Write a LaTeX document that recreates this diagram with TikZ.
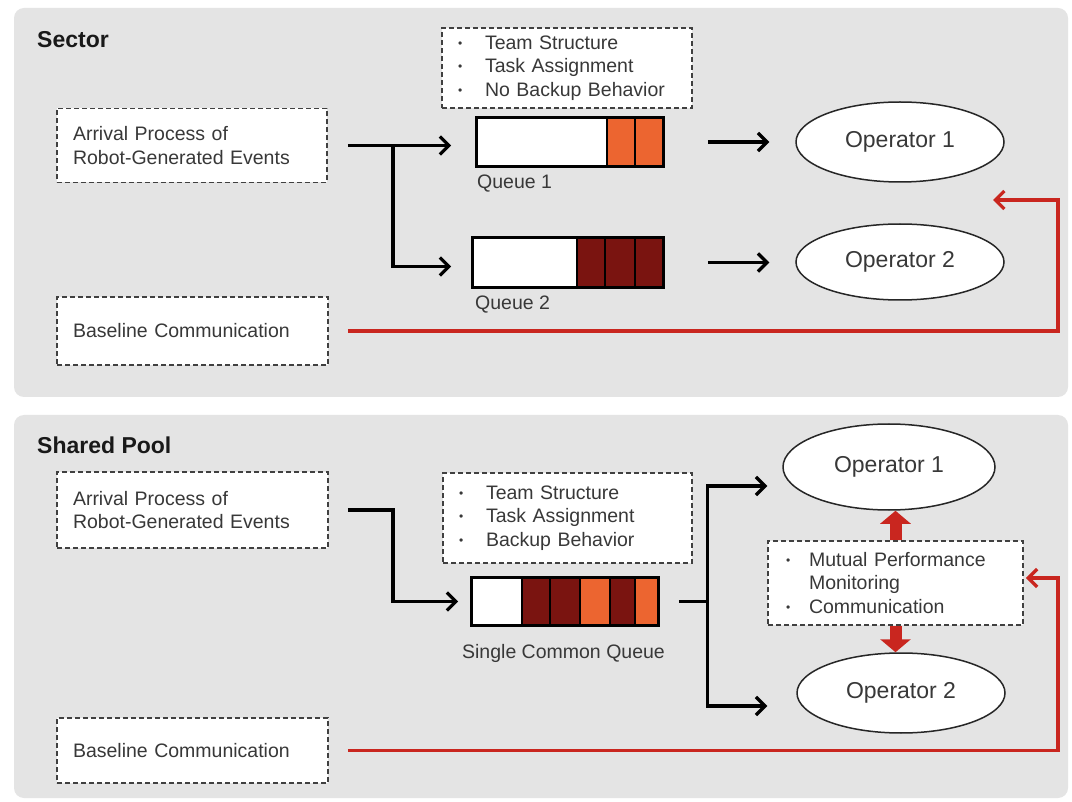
\documentclass[tikz,border=0pt]{standalone}
\usepackage{fontspec}
\setmainfont{Liberation Sans}
\usetikzlibrary{arrows.meta,calc,shapes.geometric}
\definecolor{panelgray}{HTML}{E4E4E4}
\definecolor{qorange}{HTML}{EC6530}
\definecolor{qdark}{HTML}{7A1410}
\definecolor{linkred}{HTML}{C9261F}
\definecolor{txtgray}{HTML}{383838}
\newcommand{\bul}[1]{\makebox[#1][l]{\raisebox{0.1em}{\fontsize{12}{12}\selectfont\textbullet}}}
\begin{document}
\begin{tikzpicture}[x=1pt,y=-1pt,
 dbox/.style={draw=black!75, line width=1.7pt, dash pattern=on 5pt off 3pt, fill=white, rectangle, inner ysep=0pt, text=txtgray, font=\fontsize{19.5}{23.5}\selectfont, align=left},
 opnode/.style={ellipse, draw=black!85, line width=1.5pt, fill=white, inner sep=0pt, text=txtgray, font=\fontsize{23}{27}\selectfont},
 qbox/.style={draw=black, line width=1.6pt, fill=white, rectangle, inner sep=0pt},
 qlabel/.style={text=txtgray, font=\fontsize{19.5}{23}\selectfont, inner sep=0pt},
 title/.style={font=\bfseries\fontsize{23}{27}\selectfont, text=black!90, anchor=west, inner sep=0pt},
 flow/.style={draw=black, line width=3.3pt},
 flowarr/.style={flow, -{Straight Barb[length=9pt,width=18pt]}},
 redlink/.style={draw=linkred, line width=3.3pt, -{Straight Barb[length=9pt,width=18pt]}},
 fatarr/.style={draw=linkred, line width=12pt, -{Triangle[length=13pt,width=30pt]}},
 cellO/.style={fill=qorange, draw=black, line width=1.2pt},
 cellD/.style={fill=qdark, draw=black, line width=1.2pt}]
\useasboundingbox (0,0) rectangle (1072,802);
\fill[white] (0,0) rectangle (1072,802);
\fill[panelgray, rounded corners=10pt] (14,8) rectangle (1068,397);
\fill[panelgray, rounded corners=10pt] (14,415) rectangle (1068,798);

% ---------------- Sector ----------------
\node[title] (secT) at (37,40) {Sector};
\node[dbox, text width=238pt, inner xsep=16pt, minimum height=74pt] (arrT) at (192,145.5) {Arrival Process of\\Robot-Generated Events};
\node[dbox, text width=239pt, inner xsep=16pt, minimum height=68pt] (baseT) at (192.5,331) {Baseline Communication};
\node[dbox, text width=218pt, inner xsep=16pt, minimum height=80pt] (teamT) at (567,68) {\bul{27pt}Team Structure\\\bul{27pt}Task Assignment\\\bul{27pt}No Backup Behavior};

\node[qbox, minimum width=186pt, minimum height=48pt] (q1) at (570,142) {};
\draw[cellO] (607,118) rectangle (635,166);
\draw[cellO] (635,118) rectangle (663,166);
\draw[line width=1.6pt] (q1.north west) rectangle (q1.south east);
\node[qlabel, anchor=west] (q1l) at (477,184) {Queue 1};

\node[qbox, minimum width=190pt, minimum height=49pt] (q2) at (568,262.5) {};
\draw[cellD] (577,238) rectangle (605,287);
\draw[cellD] (605,238) rectangle (635,287);
\draw[cellD] (635,238) rectangle (663,287);
\draw[line width=1.6pt] (q2.north west) rectangle (q2.south east);
\node[qlabel, anchor=west] (q2l) at (475,305) {Queue 2};

\node[opnode, minimum width=208pt, minimum height=80pt] (op1) at (900,142) {Operator 1};
\node[opnode, minimum width=208pt, minimum height=76pt] (op2) at (900,262) {Operator 2};

\coordinate (s1) at ($(arrT.east)+(20,0)$);
\coordinate (br1) at ($(arrT.east)+(65,0)$);
\draw[flowarr] (s1) -- ($(s1 -| q1.west)+(-25,0)$);
\draw[flowarr] (br1) |- ($(q2.west)+(-21,4)$);
\draw[flowarr] ($(q1.east)+(44,0)$) -- ($(q1.east -| op1.west)+(-26,0)$);
\draw[flowarr] ($(q2.east)+(44,0)$) -- ($(q2.east -| op2.west)+(-26,0)$);

\coordinate (rT1) at (1058,200);
\coordinate (rT2) at (993,200);
\draw[redlink] ($(baseT.east)+(19,0)$) -| (rT1) -- (rT2);

% ---------------- Shared Pool ----------------
\node[title] (secB) at (37,445) {Shared Pool};
\node[dbox, text width=239pt, inner xsep=16pt, minimum height=76pt] (arrB) at (192.5,510) {Arrival Process of\\Robot-Generated Events};
\node[dbox, text width=239pt, inner xsep=16pt, minimum height=65pt] (baseB) at (192.5,750.5) {Baseline Communication};
\node[dbox, text width=217pt, inner xsep=16pt, minimum height=90pt] (teamB) at (567.5,518) {\bul{27pt}Team Structure\\\bul{27pt}Task Assignment\\\bul{27pt}Backup Behavior};

\node[qbox, minimum width=186pt, minimum height=47pt] (q3) at (565,601.5) {};
\draw[cellD] (522,578) rectangle (550,625);
\draw[cellD] (550,578) rectangle (580,625);
\draw[cellO] (580,578) rectangle (610,625);
\draw[cellD] (610,578) rectangle (635,625);
\draw[cellO] (635,578) rectangle (658,625);
\draw[line width=1.6pt] (q3.north west) rectangle (q3.south east);
\node[qlabel] (q3l) at (563.5,653) {Single Common Queue};

\node[opnode, minimum width=212pt, minimum height=86pt] (op1b) at (889,467) {Operator 1};
\node[opnode, minimum width=208pt, minimum height=80pt] (op2b) at (901,693) {Operator 2};
\node[dbox, text width=219pt, inner xsep=18pt, minimum height=84pt] (mut) at (895.5,583) {\bul{23pt}Mutual Performance\\\hspace*{23pt}Monitoring\\\bul{23pt}Communication};

\coordinate (s2) at ($(arrB.east)+(19,0)$);
\coordinate (br2) at ($(arrB.east)+(64,0)$);
\draw[flowarr] (s2) -- (br2) |- ($(q3.west)+(-13,0)$);
\coordinate (jb) at ($(q3.east)+(49,0)$);
\draw[flow] ($(q3.east)+(20,0)$) -- (jb);
\draw[flowarr] (jb) |- ($(op1b.west)+(-15,19)$);
\draw[flowarr] (jb) |- ($(op2b.west)+(-29,13)$);

\draw[fatarr] (mut.north) -- (mut.north |- op1b.south);
\draw[fatarr] (mut.south) -- (mut.south |- op2b.north);

\coordinate (rB1) at (1058,578);
\coordinate (rB2) at ($(mut.east)+(2,-5)$);
\draw[redlink] ($(baseB.east)+(19,0)$) -| (rB1) -- (rB2);
\end{tikzpicture}
\end{document}
